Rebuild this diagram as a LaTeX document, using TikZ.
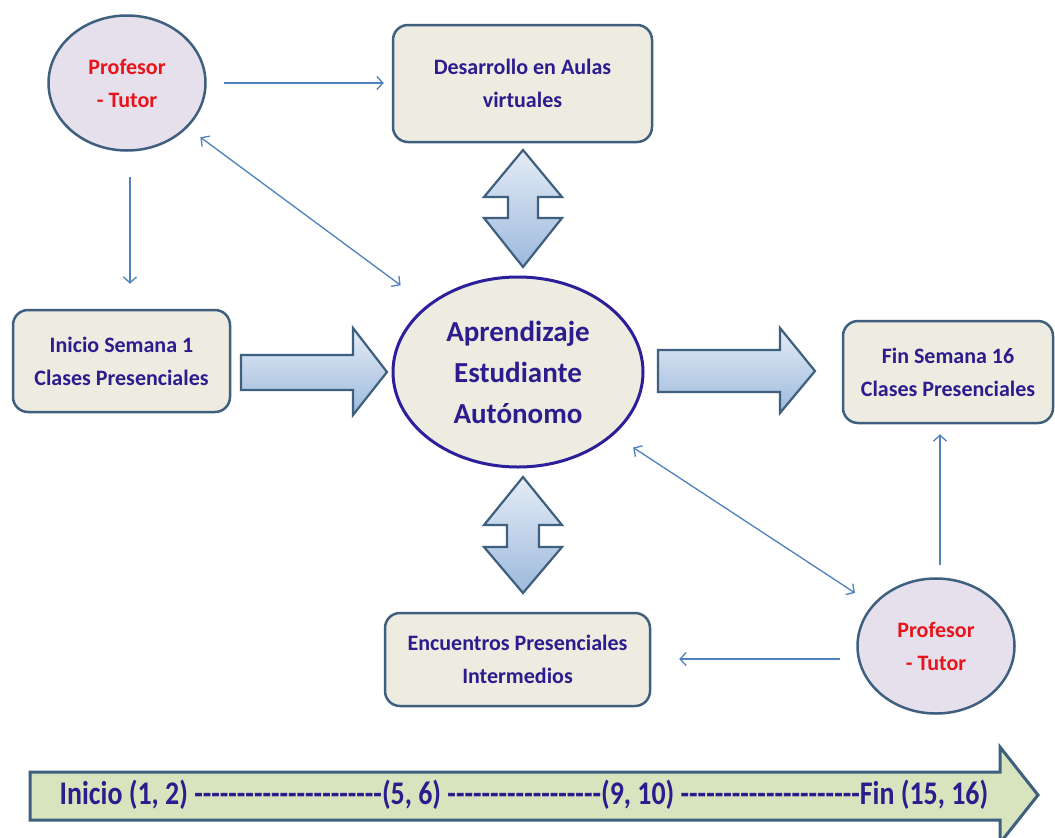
\documentclass[tikz,border=0pt]{standalone}
\usepackage{fontspec}
\usepackage{graphicx}
\setmainfont{Carlito}
\usetikzlibrary{shapes.geometric,arrows.meta}
\definecolor{boxfill}{HTML}{EEECE1}
\definecolor{boxline}{HTML}{3F5F7F}
\definecolor{navy}{HTML}{2C1C8E}
\definecolor{ellfill}{HTML}{E5E0EC}
\definecolor{profred}{HTML}{E8141C}
\definecolor{conncol}{HTML}{4F81BD}
\definecolor{barfill}{HTML}{D7E4BD}
\definecolor{blktop}{HTML}{E4ECF6}
\definecolor{blkbot}{HTML}{9DB9DC}
\definecolor{aprline}{HTML}{2B1F9C}
\newcommand{\dashrun}[1]{\foreach \k in {1,...,#1}{-\kern0pt}}
\begin{document}
\begin{tikzpicture}[x=1pt,y=-1pt,
 box/.style={draw=boxline, line width=2.5pt, fill=boxfill, rounded corners=15pt, inner sep=0pt, align=center, text=navy, font=\fontsize{22}{33}\selectfont\bfseries},
 prof/.style={ellipse, draw=boxline, line width=2.5pt, fill=ellfill, minimum width=157pt, minimum height=135pt, inner sep=0pt, align=center, text=profred, font=\fontsize{22}{33}\selectfont\bfseries},
 conn/.style={draw=conncol, line width=1.3pt, -{Straight Barb[length=6pt,width=13pt]}},
 dconn/.style={draw=conncol, line width=1.3pt, {Straight Barb[length=6pt,width=13pt]}-{Straight Barb[length=6pt,width=13pt]}},
 blk/.style={draw=boxline, line width=2.2pt, top color=blktop, bottom color=blkbot, line join=miter},
]
\useasboundingbox (0,0) rectangle (1055,838);
\fill[white] (0,0) rectangle (1055,838);

% nodes
\node[prof] (p1) at (127,83) {Profesor\\- Tutor};
\node[prof] (p2) at (936,646) {Profesor\\- Tutor};
\node[box, minimum width=259pt, minimum height=117pt] (des) at (522.5,83.5) {Desarrollo en Aulas\\virtuales};
\node[box, minimum width=217pt, minimum height=102pt] (ini) at (121.5,361) {Inicio Semana 1\\Clases Presenciales};
\node[box, minimum width=210pt, minimum height=102pt] (fin) at (948,372) {Fin Semana 16\\Clases Presenciales};
\node[box, minimum width=265pt, minimum height=93pt] (enc) at (517.5,659.5) {Encuentros Presenciales\\Intermedios};
\node[ellipse, draw=aprline, line width=3pt, fill=boxfill, minimum width=250pt, minimum height=190pt, inner sep=0pt, align=center, text=navy, font=\fontsize{29}{41}\selectfont\bfseries] (apr) at (518,372) {Aprendizaje\\Estudiante\\Autónomo};

% thin connectors
\draw[conn, shorten <=17pt, shorten >=8pt] (p1.east) -- (p1.east -| des.west);
\draw[conn] ([xshift=3pt,yshift=-25pt]p1.south) -- ([xshift=3pt,yshift=25pt]p1.south |- ini.north);
\draw[dconn, shorten <=16pt, shorten >=33pt] (p1) -- (apr);
\draw[dconn, shorten <=23pt, shorten >=21pt] (apr) -- (p2);
\draw[conn] ([xshift=4pt,yshift=12pt]p2.north) -- ([xshift=4pt,yshift=-10pt]p2.north |- fin.south);
\draw[conn] ([xshift=-16pt,yshift=-13pt]p2.west) -- ([xshift=28pt,yshift=-13pt]p2.west -| enc.east);

% block arrows
\path[blk] (241,355) -- (353,355) -- (353,328) -- (387,372) -- (353,415) -- (353,390) -- (241,390) -- cycle;
\path[blk] (658,350) -- (780,350) -- (780,328) -- (815,371) -- (780,413) -- (780,392) -- (658,392) -- cycle;
\path[blk] (523,150) -- (562,197) -- (538,197) -- (538,218) -- (562,218) -- (523,267) -- (484,218) -- (508,218) -- (508,197) -- (484,197) -- cycle;
\path[blk] (523,477) -- (562,525) -- (539,525) -- (539,547) -- (562,547) -- (523,593) -- (484,547) -- (507,547) -- (507,525) -- (484,525) -- cycle;

% timeline
\path[draw=boxline, line width=3pt, fill=barfill, line join=miter] (30,772) -- (1000,772) -- (1000,747) -- (1038,795) -- (1000,843) -- (1000,820) -- (30,820) -- cycle;
\node[text=navy, font=\fontsize{33}{40}\selectfont\bfseries, inner sep=0pt] (tl) at (524,795) {\scalebox{0.845}[1]{Inicio (1, 2) \dashrun{22}(5, 6) \dashrun{18}(9, 10) \dashrun{21}Fin (15, 16)}};
\end{tikzpicture}
\end{document}
